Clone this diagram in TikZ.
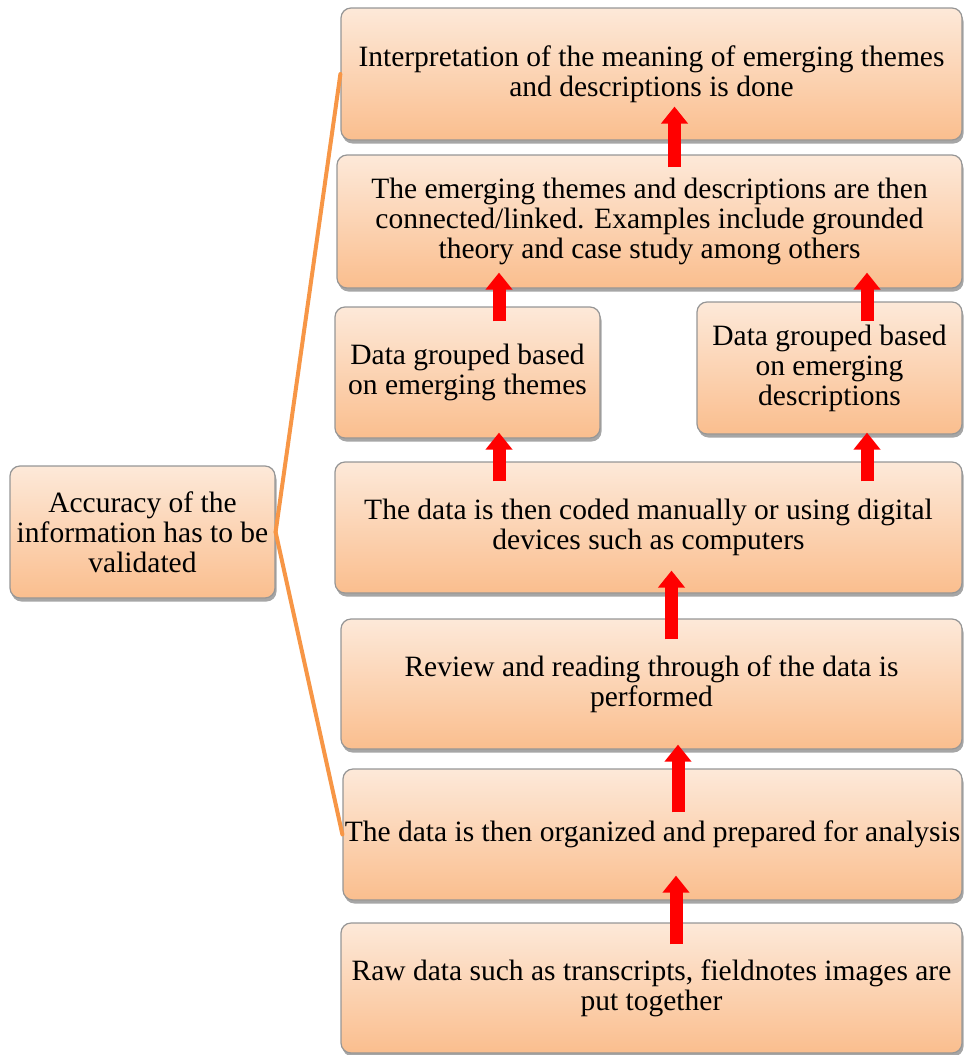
\documentclass[tikz,border=0pt]{standalone}
\usepackage{fontspec}
\setmainfont{Liberation Serif}
\usetikzlibrary{arrows.meta,shadows,calc}
\definecolor{boxtop}{RGB}{253,233,217}
\definecolor{boxbot}{RGB}{250,190,142}
\definecolor{boxline}{RGB}{150,150,150}
\definecolor{linkorange}{RGB}{247,150,70}
\definecolor{arrowred}{RGB}{255,0,0}
\tikzset{
  stagebox/.style={rectangle, rounded corners=10pt, top color=boxtop, bottom color=boxbot,
    draw=boxline, line width=1.2pt, align=center, inner xsep=1pt, inner ysep=2pt,
    font=\fontsize{29.5}{30}\selectfont,
    drop shadow={shadow xshift=1.5pt, shadow yshift=-3.5pt, opacity=0.35, fill=black}},
  redup/.style={draw=arrowred, line width=13pt, -{Triangle[width=26pt,length=17pt]}},
  link/.style={draw=linkorange, line width=4pt, line cap=round}
}
\begin{document}
\begin{tikzpicture}[x=1pt,y=-1pt]
\useasboundingbox (0,0) rectangle (964,1055);
\node[stagebox, minimum width=621pt, minimum height=132pt] (b1) at (651.5,74)
  {Interpretation of the meaning of emerging themes\\and descriptions is done};
\node[stagebox, minimum width=625pt, minimum height=133pt] (b2) at (649.5,221.5)
  {The emerging themes and descriptions are then\\connected/linked. Examples include grounded\\theory and case study among others};
\node[stagebox, minimum width=265pt, minimum height=131pt] (b3a) at (467.5,372.5)
  {Data grouped based\\on emerging themes};
\node[stagebox, minimum width=265pt, minimum height=132pt] (b3b) at (829.5,368)
  {Data grouped based\\on emerging\\descriptions};
\node[stagebox, minimum width=627pt, minimum height=131pt] (b4) at (648.5,527.5)
  {The data is then coded manually or using digital\\devices such as computers};
\node[stagebox, minimum width=621pt, minimum height=130pt] (b5) at (651.5,684)
  {Review and reading through of the data is\\performed};
\node[stagebox, minimum width=619pt, minimum height=131pt] (b6) at (652.5,834.5)
  {The data is then organized and prepared for analysis};
\node[stagebox, minimum width=621pt, minimum height=130pt] (b7) at (651.5,988)
  {Raw data such as transcripts, fieldnotes images are\\put together};
\node[stagebox, minimum width=265pt, minimum height=132pt] (acc) at (142.5,532)
  {Accuracy of the\\information has to be\\validated};
% orange links
\draw[link] (acc.east) -- (b1.west);
\draw[link] (acc.east) -- (b6.west);
% red arrows
\draw[redup] ([xshift=25pt,yshift=-13pt]b2.north) -- ([xshift=23pt,yshift=34pt]b1.south);
\draw[redup] ([xshift=31.5pt,yshift=-15pt]b3a.north) -- ([xshift=-150.5pt,yshift=16pt]b2.south);
\draw[redup] ([xshift=37.5pt,yshift=-20pt]b3b.north) -- ([xshift=217.5pt,yshift=16pt]b2.south);
\draw[redup] ([xshift=-149.5pt,yshift=-20pt]b4.north) -- ([xshift=31.5pt,yshift=6pt]b3a.south);
\draw[redup] ([xshift=218.5pt,yshift=-20pt]b4.north) -- ([xshift=37.5pt,yshift=2pt]b3b.south);
\draw[redup] ([xshift=20pt,yshift=-21pt]b5.north) -- ([xshift=23pt,yshift=23pt]b4.south);
\draw[redup] ([xshift=25.5pt,yshift=-44pt]b6.north) -- ([xshift=26.5pt,yshift=5pt]b5.south);
\draw[redup] ([xshift=24.5pt,yshift=-22pt]b7.north) -- ([xshift=23.5pt,yshift=25pt]b6.south);
\end{tikzpicture}
\end{document}
